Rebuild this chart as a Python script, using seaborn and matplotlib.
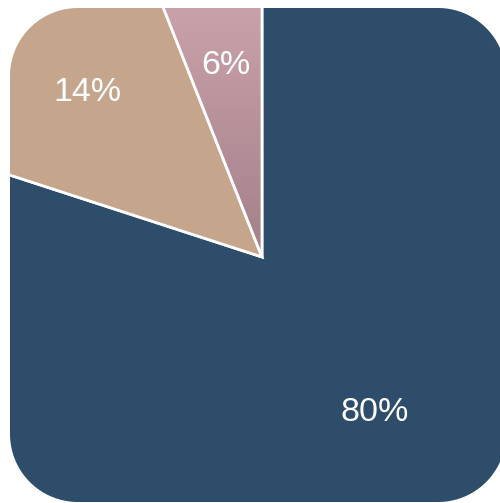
import numpy as np
import matplotlib
matplotlib.use('Agg')
import matplotlib.pyplot as plt
import seaborn as sns
from matplotlib.path import Path
from matplotlib.patches import PathPatch
from matplotlib.colors import LinearSegmentedColormap

sns.set_theme(style='white')
plt.rcParams['font.family'] = ['Liberation Sans', 'DejaVu Sans']

# ---- data ----
shares = [80, 14, 6]
labels = ['80%', '14%', '6%']
colors = ['#2d4d6a', '#c5a68c', '#c9a1a9']
label_dist = [192, 240, 195]   # label distance from centre (px)

W, H = 500, 503
fig = plt.figure(figsize=(W / 100, H / 100), dpi=100)
ax = fig.add_axes([0, 0, 1, 1])

cx, cy = 262, H - 257

wedges, _ = ax.pie(shares, radius=420, center=(cx, cy), startangle=90,
                   counterclock=False, colors=colors, frame=True,
                   wedgeprops=dict(edgecolor='white', linewidth=2))
ax.set_xlim(0, W)
ax.set_ylim(0, H)
ax.set_aspect('equal')
ax.axis('off')

# gradient on the small slice
cmap = LinearSegmentedColormap.from_list('pinkgrad', ['#a4808a', '#caa2aa'])
grad = np.linspace(0, 1, 256).reshape(-1, 1)
img = ax.imshow(grad, cmap=cmap, origin='lower', aspect='auto',
                extent=(150, cx, cy, H), zorder=1.5)
img.set_clip_path(wedges[2])
wedges[2].set_facecolor('none')
wedges[2].set_zorder(2)


# white mask outside a rounded square
def rounded_rect(x0, y0, x1, y1, r, n=40):
    pts = []
    for (ccx, ccy, a0) in [(x1 - r, y0 + r, -90), (x1 - r, y1 - r, 0),
                           (x0 + r, y1 - r, 90), (x0 + r, y0 + r, 180)]:
        t = np.deg2rad(np.linspace(a0, a0 + 90, n))
        pts += list(zip(ccx + r * np.cos(t), ccy + r * np.sin(t)))
    return pts


inner = rounded_rect(10, H - 502, 506, H - 8, 68)
outer = [(-10, -10), (W + 10, -10), (W + 10, H + 10), (-10, H + 10)]
verts = outer + [outer[0]] + inner[::-1] + [inner[-1]]
codes = ([Path.MOVETO] + [Path.LINETO] * 3 + [Path.CLOSEPOLY]
         + [Path.MOVETO] + [Path.LINETO] * (len(inner) - 1) + [Path.CLOSEPOLY])
ax.add_patch(PathPatch(Path(verts, codes), facecolor='white',
                       edgecolor='none', zorder=5))

# labels at slice mid-angles
start = 90.0
for v, lab, d in zip(shares, labels, label_dist):
    mid = np.deg2rad(start - v * 3.6 / 2)
    start -= v * 3.6
    ax.text(cx + d * np.cos(mid), cy + d * np.sin(mid), lab,
            ha='center', va='center', color='white', fontsize=24.5, zorder=6)

fig.savefig('out.png', dpi=100)
